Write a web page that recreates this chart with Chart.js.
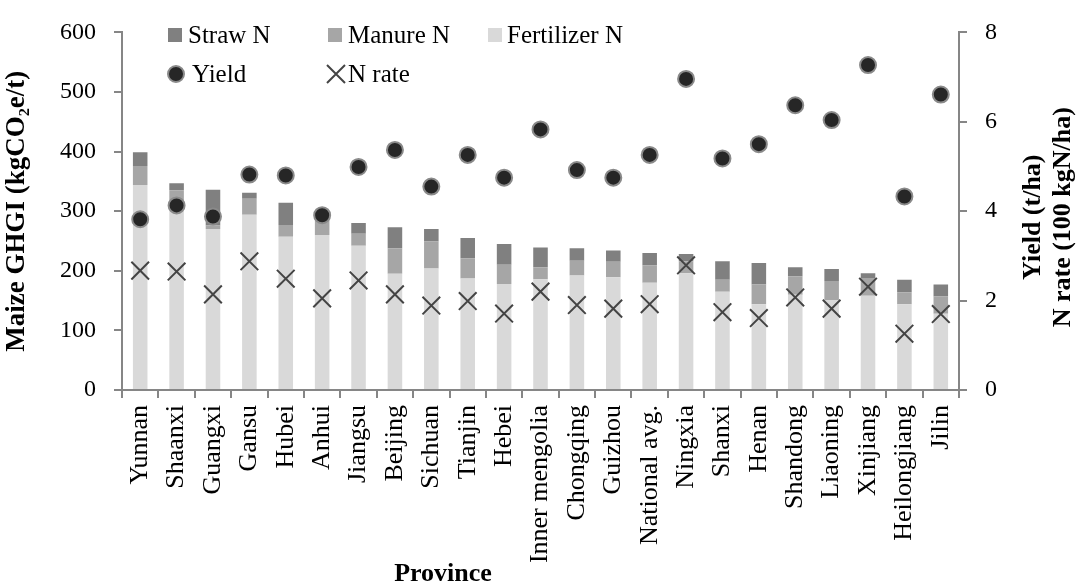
<!DOCTYPE html>
<html>
<head>
	<title>Maize GHGI by province</title>
	<style>
		body { margin: 0; background: #ffffff; }
		#wrap { width: 1084px; height: 588px; }
	</style>
	<script src="https://cdn.jsdelivr.net/npm/chart.js"></script>
</head>
<body>
	<div id="wrap"><canvas id="ghgiChart" width="1084" height="588"></canvas></div>

	<script>
		const provinces = ['Yunnan', 'Shaanxi', 'Guangxi', 'Gansu', 'Hubei', 'Anhui', 'Jiangsu', 'Beijing', 'Sichuan', 'Tianjin', 'Hebei', 'Inner mengolia', 'Chongqing', 'Guizhou', 'National avg.', 'Ningxia', 'Shanxi', 'Henan', 'Shandong', 'Liaoning', 'Xinjiang', 'Heilongjiang', 'Jilin'];
		const fertilizerN = [344, 318, 270, 294, 257, 260, 242, 195, 204, 187, 178, 186, 192, 189, 180, 196, 165, 144, 160, 151, 158, 144, 128];
		const manureN = [32, 17, 6, 27, 20, 25, 20, 43, 45, 34, 32, 20, 25, 26, 29, 20, 20, 33, 31, 32, 30, 20, 29];
		const strawN = [23, 12, 60, 10, 37, 10, 18, 35, 21, 34, 35, 33, 21, 19, 21, 12, 31, 36, 15, 20, 8, 21, 20];
		const yieldTHa = [3.82, 4.13, 3.88, 4.82, 4.80, 3.91, 4.99, 5.37, 4.55, 5.26, 4.75, 5.83, 4.92, 4.75, 5.26, 6.96, 5.18, 5.50, 6.37, 6.04, 7.27, 4.33, 6.61];
		const nRate = [2.67, 2.65, 2.14, 2.88, 2.49, 2.05, 2.45, 2.14, 1.89, 1.99, 1.71, 2.20, 1.90, 1.82, 1.92, 2.79, 1.74, 1.61, 2.07, 1.82, 2.31, 1.26, 1.70];

		const FONT = '"Liberation Serif", "Times New Roman", serif';
		const axisGrey = '#868686';

		// legend sits inside the plot, two rows like the original
		const legendPlugin = {
			id: 'insideLegend',
			afterDraw(chart) {
				const ctx = chart.ctx;
				ctx.save();
				ctx.font = '25px ' + FONT;
				ctx.fillStyle = '#000';
				ctx.textBaseline = 'middle';
				ctx.textAlign = 'left';

				const boxes = [
					{ label: 'Straw N', color: '#808080', x: 168, text: 188 },
					{ label: 'Manure N', color: '#a6a6a6', x: 328, text: 348 },
					{ label: 'Fertilizer N', color: '#d9d9d9', x: 488, text: 507 }
				];
				boxes.forEach(b => {
					ctx.fillStyle = b.color;
					ctx.fillRect(b.x, 28, 14, 14);
					ctx.fillStyle = '#000';
					ctx.fillText(b.label, b.text, 36);
				});

				// yield marker
				ctx.beginPath();
				ctx.arc(176, 74, 8, 0, Math.PI * 2);
				ctx.fillStyle = '#262626';
				ctx.fill();
				ctx.lineWidth = 2;
				ctx.strokeStyle = '#8a8a8a';
				ctx.stroke();
				ctx.fillStyle = '#000';
				ctx.fillText('Yield', 192, 75);

				// n rate marker
				ctx.beginPath();
				ctx.moveTo(327, 65); ctx.lineTo(345, 83);
				ctx.moveTo(345, 65); ctx.lineTo(327, 83);
				ctx.lineWidth = 2;
				ctx.strokeStyle = '#444';
				ctx.stroke();
				ctx.fillText('N rate', 348, 75);

				// axis titles that chart.js can't place the same way
				const area = chart.chartArea;
				const midY = (area.top + area.bottom) / 2;
				ctx.font = 'bold 26px ' + FONT;
				ctx.textAlign = 'center';
				ctx.fillText('Province', 443, 574);
				[['Yield (t/ha)', 1033], ['N rate (100 kgN/ha)', 1063]].forEach(([t, x]) => {
					ctx.save();
					ctx.translate(x, midY + 6);
					ctx.rotate(-Math.PI / 2);
					ctx.fillText(t, 0, 0);
					ctx.restore();
				});
				ctx.restore();
			}
		};

		const ctx1 = document.getElementById('ghgiChart').getContext('2d');
		const ghgiChart = new Chart(ctx1, {
			type: 'bar',
			data: {
				labels: provinces,
				datasets: [
					{ label: 'Fertilizer N', data: fertilizerN, backgroundColor: '#d9d9d9', stack: 'n', yAxisID: 'y', order: 2 },
					{ label: 'Manure N', data: manureN, backgroundColor: '#a6a6a6', stack: 'n', yAxisID: 'y', order: 2 },
					{ label: 'Straw N', data: strawN, backgroundColor: '#808080', stack: 'n', yAxisID: 'y', order: 2 },
					{
						type: 'line', label: 'Yield', data: yieldTHa, yAxisID: 'y2', showLine: false, order: 0,
						pointStyle: 'circle', pointRadius: 8, pointBackgroundColor: '#262626',
						pointBorderColor: '#8a8a8a', pointBorderWidth: 2
					},
					{
						type: 'line', label: 'N rate', data: nRate, yAxisID: 'y2', showLine: false, order: 1,
						pointStyle: 'crossRot', pointRadius: 12.5, pointBorderColor: '#444',
						pointBackgroundColor: '#444', pointBorderWidth: 2
					}
				]
			},
			options: {
				responsive: false,
				animation: false,
				layout: { padding: { top: 25, left: 0, right: 0, bottom: 0 } },
				datasets: { bar: { categoryPercentage: 1, barPercentage: 0.4 } },
				plugins: { legend: { display: false }, tooltip: { enabled: false } },
				scales: {
					x: {
						stacked: true,
						grid: { display: true, drawOnChartArea: false, offset: true, color: axisGrey, lineWidth: 2, tickLength: 8 },
						border: { color: axisGrey, width: 2 },
						ticks: { color: '#000', font: { family: FONT, size: 26 }, minRotation: 90, maxRotation: 90, padding: 7, autoSkip: false },
						afterFit(scale) { scale.height = 198; }
					},
					y: {
						stacked: true,
						position: 'left',
						min: 0, max: 600,
						grid: { display: true, drawOnChartArea: false, color: axisGrey, lineWidth: 2, tickLength: 8 },
						border: { color: axisGrey, width: 2 },
						ticks: { stepSize: 100, color: '#000', font: { family: FONT, size: 24 }, padding: 18 },
						title: { display: true, text: 'Maize GHGI (kgCO\u2082e/t)', color: '#000', font: { family: FONT, size: 27, weight: 'bold' }, padding: { top: 1, bottom: 0 } },
						afterFit(scale) { scale.width = 122; }
					},
					y2: {
						position: 'right',
						min: 0, max: 8,
						grid: { display: true, drawOnChartArea: false, color: axisGrey, lineWidth: 2, tickLength: 8 },
						border: { color: axisGrey, width: 2 },
						ticks: { stepSize: 2, color: '#000', font: { family: FONT, size: 24 }, padding: 18 },
						afterFit(scale) { scale.width = 125; }
					}
				}
			},
			plugins: [legendPlugin]
		});
	</script>
</body>
</html>
